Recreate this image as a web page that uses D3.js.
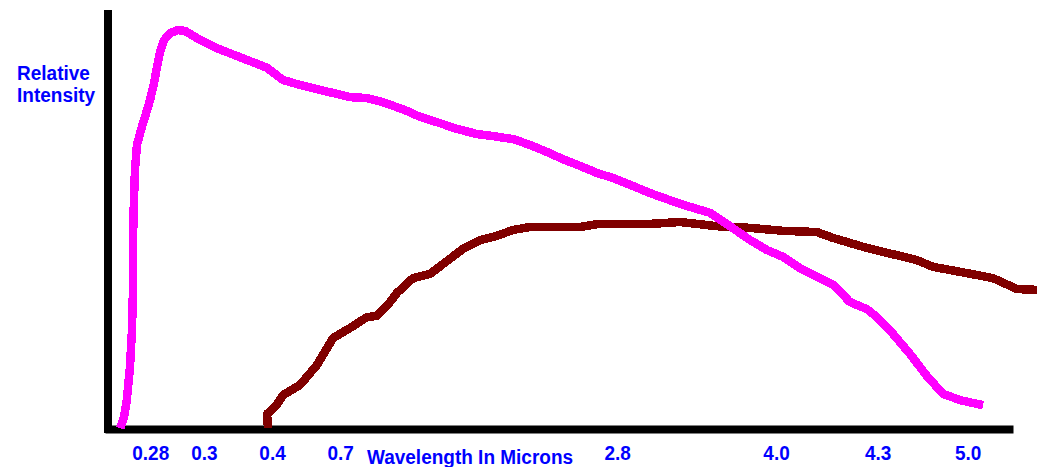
<!DOCTYPE html>
<html>
<head>
<meta charset="utf-8">
<script src="https://cdn.jsdelivr.net/npm/d3@7"></script>
<style>
  html, body { margin: 0; padding: 0; background: #fff; }
  svg { display: block; }
  text { font-family: "Liberation Sans", Arial, sans-serif; font-weight: bold; }
</style>
</head>
<body>
<svg id="chart" width="1037" height="467"></svg>
<script>
// Horizontal position along the axis (0-100 of axis length), relative intensity (0-100)
const sunPos = [1.7, 2.1, 2.4, 2.75, 2.97, 3.08, 3.08, 3.19, 3.3, 3.52, 3.96, 4.41, 4.96, 5.4, 5.73, 6.06, 6.5, 7.16, 8.04, 8.81,
  10.13, 12.33, 14.54, 15.97, 17.84, 19.6, 21.48, 23.35, 25.11, 26.98, 28.85, 30.62, 33.04, 34.69, 36.89, 38.77, 40.97, 42.73,
  44.93, 46.81, 48.68, 50.44, 52.31, 54.19, 55.95, 58.15, 60.02, 63.66, 66.63, 68.5, 71.04, 72.91, 74.67, 76.54, 78.41, 80.18,
  82.05, 83.92, 85.02, 86.78, 88.66, 90.53, 92.29, 94.16, 95.59, 96.7];
const sunIntensity = [0.2, 2.9, 6.9, 14.8, 23.6, 33.2, 45.1, 54.7, 61.8, 67.8, 71.4, 74.5, 78.5, 82.6, 86.4, 90.0, 92.8, 94.5, 95.2, 95.0,
  93.3, 90.9, 89.0, 87.8, 86.2, 83.3, 82.1, 81.1, 80.2, 79.2, 79.0, 78.0, 76.1, 74.5, 73.0, 71.6, 70.4, 69.9,
  69.2, 67.8, 66.1, 64.4, 62.8, 61.1, 59.9, 58.0, 56.3, 53.5, 51.6, 48.9, 45.1, 42.7, 41.1, 38.4, 36.3, 34.4,
  30.3, 28.6, 26.7, 22.7, 17.9, 12.6, 8.4, 6.9, 6.2, 5.7];

const heatPos = [17.95, 17.85, 18.9, 19.6, 21.48, 23.35, 25.11, 26.98, 28.85, 29.96, 31.39, 32.16, 33.92, 35.79, 37.67, 39.43, 41.3,
  43.17, 44.93, 46.81, 52.31, 54.19, 59.69, 63.33, 67.4, 71.04, 74.67, 78.41, 80.18, 83.92, 87.56, 89.43, 91.19, 94.93,
  97.8, 100.44, 102.7];
const heatIntensity = [0.2, 3.6, 5.7, 8.1, 10.5, 15.3, 21.7, 24.1, 26.7, 27.0, 30.3, 32.5, 36.0, 37.0, 40.1, 43.0, 45.1,
  46.1, 47.5, 48.2, 48.2, 48.9, 48.9, 49.4, 48.4, 48.0, 47.3, 47.0, 45.6, 43.2, 41.3, 40.3, 38.7, 37.2,
  36.0, 33.4, 33.2];

const tickPos = [4.98, 10.9, 18.4, 25.9, 56.4, 73.9, 85.1, 95.0];
const tickLabels = ["0.28", "0.3", "0.4", "0.7", "2.8", "4.0", "4.3", "5.0"];
const xTitle = "Wavelength In Microns";
const xTitlePos = 40.2;
const yTitleLines = ["Relative", "Intensity"];

const svg = d3.select("#chart");
const x = d3.scaleLinear().domain([0, 100]).range([105, 1013]);
const y = d3.scaleLinear().domain([0, 100]).range([429, 10]);
const sy = 1.1; // vertical stretch of the bitmap-like lettering

// Y axis
const yAxis = svg.append("g").attr("transform", "translate(108,0)")
  .call(d3.axisLeft(y).tickValues([]).tickSizeOuter(0));
yAxis.select(".domain").attr("stroke", "#000").attr("stroke-width", 8).attr("d", `M0,${y(100)}V${y(0) + 4}`);

// X axis
const xAxis = svg.append("g").attr("transform", `translate(0,${y(0)})`)
  .call(d3.axisBottom(x).tickValues(tickPos).tickSize(0).tickSizeOuter(0)
    .tickFormat((d, i) => tickLabels[i]));
xAxis.select(".domain").attr("stroke", "#000").attr("stroke-width", 8);
xAxis.selectAll(".tick text")
  .attr("y", 31 / sy).attr("dy", 0)
  .attr("transform", `scale(1,${sy})`)
  .attr("fill", "#0000ff")
  .style("font-size", "19px")
  .style("font-family", '"Liberation Sans", Arial, sans-serif')
  .style("font-weight", "bold");

svg.append("text")
  .attr("transform", `translate(${x(xTitlePos)},464) scale(1,${sy})`)
  .attr("text-anchor", "middle")
  .attr("fill", "#0000ff")
  .style("font-size", "19px")
  .text(xTitle);

svg.append("g").selectAll("text").data(yTitleLines).join("text")
  .attr("transform", (d, i) => `translate(17,${80 + i * 22}) scale(1,${sy})`)
  .attr("fill", "#0000ff")
  .style("font-size", "19px")
  .text(d => d);

const line = d3.line().x(d => x(d[0])).y(d => y(d[1])).curve(d3.curveLinear);

svg.append("path")
  .datum(heatPos.map((p, i) => [p, heatIntensity[i]]))
  .attr("d", line)
  .attr("fill", "none")
  .attr("stroke", "#800000")
  .attr("stroke-width", 8.5)
  .attr("stroke-linejoin", "round")
  .attr("shape-rendering", "crispEdges");

svg.append("path")
  .datum(sunPos.map((p, i) => [p, sunIntensity[i]]))
  .attr("d", line)
  .attr("fill", "none")
  .attr("stroke", "#ff00ff")
  .attr("stroke-width", 8.5)
  .attr("stroke-linejoin", "round")
  .attr("shape-rendering", "crispEdges");
</script>
</body>
</html>
